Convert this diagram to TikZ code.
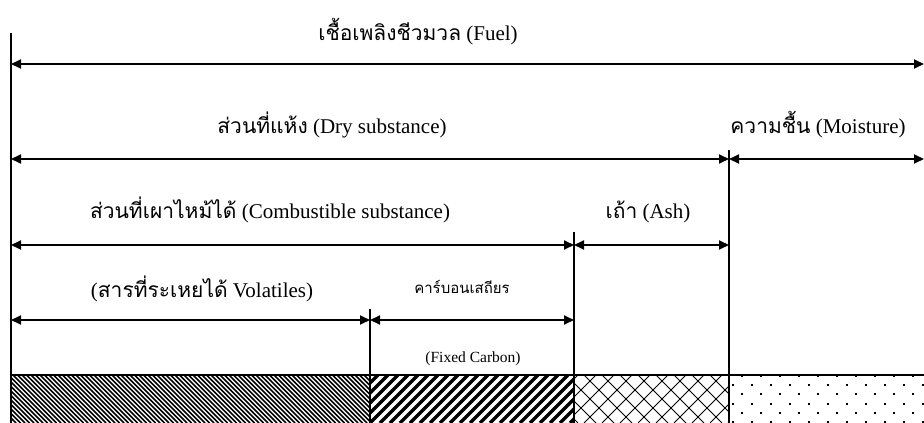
\documentclass[tikz,border=0pt]{standalone}
\usepackage{fontspec}
\setmainfont{Liberation Serif}
\newfontfamily\thai[Script=Thai]{Loma}
\usetikzlibrary{arrows.meta}
\tikzset{
  dim/.style={line width=1.8pt,{Triangle[length=10pt,width=9pt]}-{Triangle[length=10pt,width=9pt]}},
  wall/.style={line width=1.8pt},
  lbl/.style={anchor=base,inner sep=0pt,font=\fontsize{21}{24}\selectfont},
  slbl/.style={anchor=base,inner sep=0pt,font=\fontsize{15}{18}\selectfont},
  tlbl/.style={anchor=base,inner sep=0pt,font=\fontsize{15.5}{18}\selectfont},
}
\begin{document}
\begin{tikzpicture}[x=1pt,y=-1pt]
\useasboundingbox (0,0) rectangle (924,423);
% coordinates
\coordinate (L0) at (11,33);   \coordinate (Lb) at (11,423);
\coordinate (D0) at (729,150); \coordinate (Db) at (729,423);
\coordinate (C0) at (574,232); \coordinate (Cb) at (574,423);
\coordinate (V0) at (370,309); \coordinate (Vb) at (370,423);
\coordinate (Bl) at (11,375);  \coordinate (Br) at (924,375);
\coordinate (f1) at (11,64);   \coordinate (f2) at (924,64);
\coordinate (d1) at (11,159);  \coordinate (d2) at (729,159); \coordinate (m2) at (924,159);
\coordinate (c1) at (11,245);  \coordinate (c2) at (574,245); \coordinate (a2) at (729,245);
\coordinate (v1) at (11,320);  \coordinate (v2) at (370,320); \coordinate (x2) at (574,320);
% patterns
\begin{scope}
\clip (11,375) rectangle (370,423);
\foreach \x in {-50,-45.5,...,375} \draw[line width=1.5pt] (\x,375) -- ({\x+48},423);
\end{scope}
\begin{scope}
\clip (370,375) rectangle (574,423);
\foreach \x in {320,330,...,580} \draw[line width=3.5pt] (\x,423) -- ({\x+48},375);
\end{scope}
\begin{scope}
\clip (574,375) rectangle (729,423);
\foreach \x in {512,530,...,740} {
  \draw[line width=0.9pt] (\x,423) -- ({\x+48},375);
  \draw[line width=0.9pt] (\x,375) -- ({\x+48},423);
}
\end{scope}
\begin{scope}
\clip (729,375) rectangle (924,423);
\foreach \r in {0,...,5} {
  \pgfmathsetmacro{\yy}{376+9.2*\r}
  \pgfmathsetmacro{\off}{mod(\r,2)==0 ? 0 : -9.5}
  \foreach \c in {0,...,11} {
    \fill ({742+\off+19*\c-1},{\yy-1}) rectangle ++(2,2);
  }
}
\end{scope}
% walls
\draw[wall] (L0) -- (Lb);
\draw[wall] (D0) -- (Db);
\draw[wall] (C0) -- (Cb);
\draw[wall] (V0) -- (Vb);
\draw[wall] (Bl) -- (Br);
% dimension arrows
\draw[dim] (f1) -- (f2);
\draw[dim] (d1) -- (d2);
\draw[dim] (d2) -- (m2);
\draw[dim] (c1) -- (c2);
\draw[dim] (c2) -- (a2);
\draw[dim] (v1) -- (v2);
\draw[dim] (v2) -- (x2);
% labels
\node[lbl] (tFuel) at (418,40) {{\thai เชื้อเพลิงชีวมวล} (Fuel)};
\node[lbl] (tDry) at (332,133) {{\thai ส่วนที่แห้ง} (Dry substance)};
\node[lbl] (tMoist) at (818,133) {{\thai ความชื้น} (Moisture)};
\node[lbl] (tComb) at (270,218) {{\thai ส่วนที่เผาไหม้ได้} (Combustible substance)};
\node[lbl] (tAsh) at (648,218) {{\thai เถ้า} (Ash)};
\node[lbl] (tVol) at (202,297) {({\thai สารที่ระเหยได้} Volatiles)};
\node[slbl] (tFix) at (462,293) {\thai คาร์บอนเสถียร};
\node[tlbl] (tFC) at (473,362) {(Fixed Carbon)};
\end{tikzpicture}
\end{document}
